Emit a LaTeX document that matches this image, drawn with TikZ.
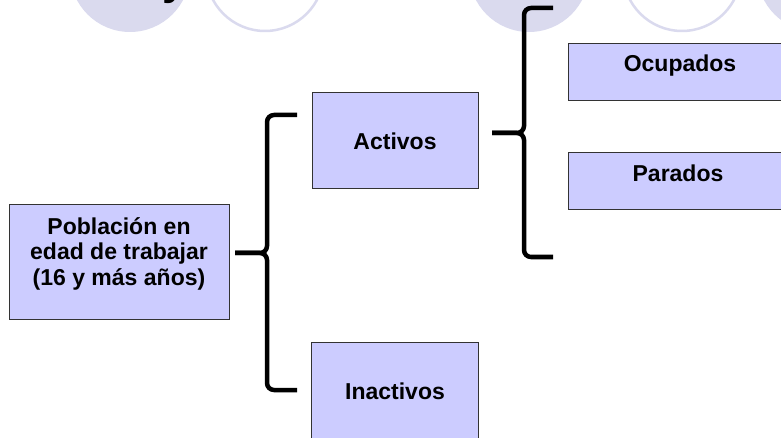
\documentclass[tikz,border=0pt]{standalone}
\usepackage{fontspec}
\setmainfont{Liberation Sans}
\definecolor{boxfill}{RGB}{204,204,255}
\definecolor{circfill}{RGB}{218,218,238}
\begin{document}
\begin{tikzpicture}[x=1pt,y=-1pt,
  box/.style={draw=black!80, line width=1pt, fill=boxfill, inner sep=0pt},
  lbl/.style={font=\fontsize{23}{25.5}\selectfont\bfseries, align=center, inner sep=0pt},
  brace/.style={line width=4.5pt, rounded corners=7pt, line cap=butt},
  disc/.style={fill=circfill, draw=none},
  ring/.style={draw=circfill, line width=2.5pt, fill=white},
  ]
\useasboundingbox (0,0) rectangle (781,438);
\clip (0,0) rectangle (781,438);
% background circles at top
\path[disc] (130,-28) circle[radius=60];
\path[ring] (265,-28) circle[radius=59];
\path[disc] (529,-28) circle[radius=60];
\path[ring] (682,-28) circle[radius=59];
\path[disc] (817,-28) circle[radius=60];
\node[font=\fontsize{44}{44}\selectfont\bfseries, anchor=base west, inner sep=0pt] (ytop) at (162,-5) {y};
% boxes
\node[box, minimum width=220pt, minimum height=114pt] (pob) at (119,262) {};
\node[lbl] (pobT) at (119,253.5) {Población en\\edad de trabajar\\(16 y más años)};
\node[box, minimum width=166pt, minimum height=96pt] (act) at (395,141) {};
\node[lbl] (actT) at (395,141) {Activos};
\node[box, minimum width=167pt, minimum height=103pt] (ina) at (394.5,393.5) {};
\node[lbl] (inaT) at (395,391) {Inactivos};
\node[box, minimum width=224pt, minimum height=57pt] (ocu) at (680,72.5) {};
\node[lbl] (ocuT) at (680,65.5) {Ocupados};
\node[box, minimum width=224pt, minimum height=57pt] (par) at (680,181.5) {};
\node[lbl] (parT) at (678,173.5) {Parados};
% braces
\coordinate (lt) at (297,115);
\coordinate (ltip) at (235,253);
\coordinate (lb) at (297,390);
\draw[brace] (lt) -- (267,115) -- (267,253) -- (ltip);
\draw[brace] (ltip) -- (267,253) -- (267,390) -- (lb);
\coordinate (rt) at (553,8);
\coordinate (rtip) at (492,133);
\coordinate (rb) at (553,257);
\draw[brace] (rt) -- (524,8) -- (524,133) -- (rtip);
\draw[brace] (rtip) -- (524,133) -- (524,257) -- (rb);
\end{tikzpicture}
\end{document}
